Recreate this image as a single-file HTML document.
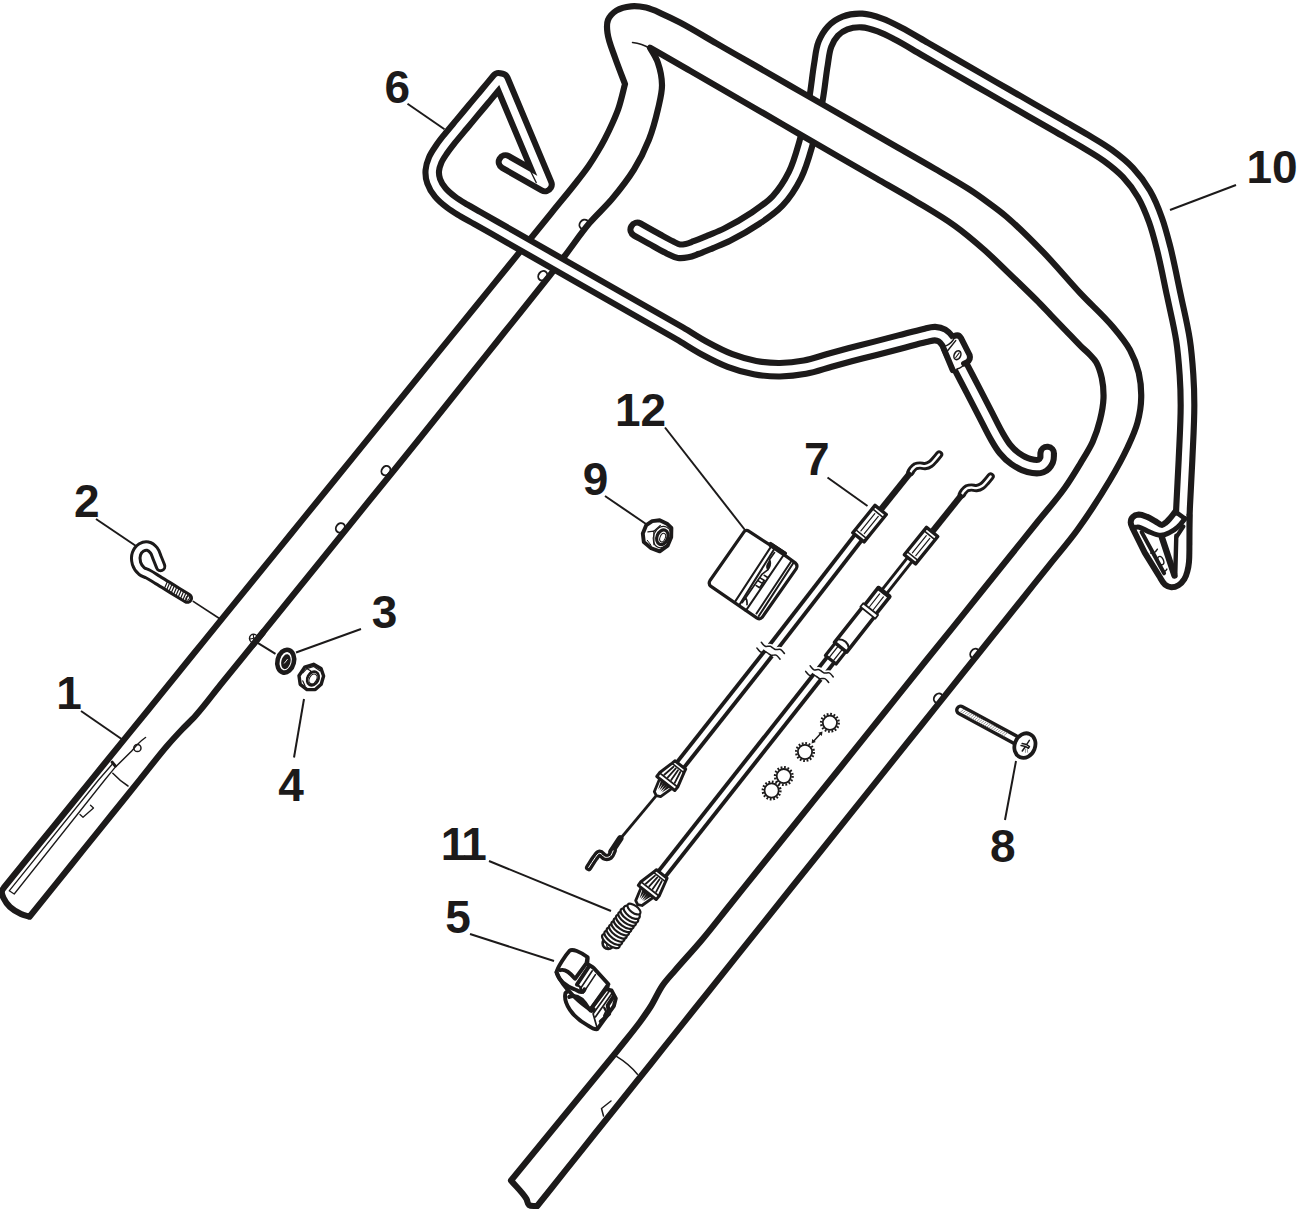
<!DOCTYPE html>
<html><head><meta charset="utf-8"><title>Handle assembly</title>
<style>
html,body{margin:0;padding:0;background:#fff}
body{width:1300px;height:1210px;overflow:hidden}
svg{display:block}
text{font-family:"Liberation Sans",Arial,Helvetica,sans-serif;font-weight:700;font-size:46px;fill:#1c1a1a}
</style></head><body>
<svg width="1300" height="1210" viewBox="0 0 1300 1210">
<rect width="1300" height="1210" fill="#fff"/>
<g fill="none" stroke-linecap="round" stroke-linejoin="round">
<g id="wire10">
<path d="M637.3,229.5 C643.9,233.2 650.4,236.9 657,240.5 C661.3,242.9 665.6,245.4 670,247.5 C672.9,248.9 675.8,250.7 679,251.2 C681.6,251.6 684.4,251.1 687,250.6 C690.1,250 693,248.7 696,247.6 C700.7,245.9 705.4,243.9 710,242 C715.7,239.6 721.5,237.5 727,234.7 C736.6,229.9 746.1,224.5 755,218.5 C762.9,213.2 771,207.9 777.5,201 C784.6,193.4 790.3,184.4 795,175 C800,164.9 802.9,153.8 806,143 C810.1,128.5 813.3,113.8 816,99 C818.1,87.4 819,75.6 821,64 C822.1,57.3 822.5,50.3 825,44 C826.9,39.3 829.5,34.7 833,31 C836.3,27.5 840.5,24.7 845,23 C850.3,20.9 856.3,20.2 862,20.5 C868.2,20.8 874.2,22.9 880,25 C886.2,27.2 892.1,30.4 898,33.5 C907.1,38.2 915.8,43.7 924.7,48.8 C933.6,54 942.5,59.1 951.4,64.2 C960.3,69.3 969.2,74.4 978.1,79.6 C987,84.7 996,89.8 1004.9,94.9 C1013.8,100 1022.7,105.2 1031.6,110.3 C1040.5,115.4 1049.4,120.5 1058.3,125.6 C1067.2,130.8 1076.2,135.7 1085,141 C1092.8,145.7 1100.7,150.1 1108,155.5 C1115.1,160.7 1122,166.1 1128,172.5 C1134.1,179 1139.5,186.3 1144,194 C1148.8,202.2 1152.3,211.1 1155.5,220 C1158.9,229.4 1161.3,239.1 1163.8,248.8 C1167.6,264 1170.5,279.6 1173.8,295 C1176.9,310 1180.7,324.9 1183,340 C1184.8,351.6 1185.7,363.3 1186.5,375 C1187.2,385 1187.5,395 1187.5,405 C1187.5,423.3 1186.3,441.7 1185.5,460 C1184.8,475 1183.9,490 1183.2,505 C1182.8,513.3 1182.5,521.7 1182.3,530 C1182.2,535 1182.2,540 1182.2,545" stroke="#1c1a1a" stroke-width="19.8" />
<path d="M637.3,229.5 C643.9,233.2 650.4,236.9 657,240.5 C661.3,242.9 665.6,245.4 670,247.5 C672.9,248.9 675.8,250.7 679,251.2 C681.6,251.6 684.4,251.1 687,250.6 C690.1,250 693,248.7 696,247.6 C700.7,245.9 705.4,243.9 710,242 C715.7,239.6 721.5,237.5 727,234.7 C736.6,229.9 746.1,224.5 755,218.5 C762.9,213.2 771,207.9 777.5,201 C784.6,193.4 790.3,184.4 795,175 C800,164.9 802.9,153.8 806,143 C810.1,128.5 813.3,113.8 816,99 C818.1,87.4 819,75.6 821,64 C822.1,57.3 822.5,50.3 825,44 C826.9,39.3 829.5,34.7 833,31 C836.3,27.5 840.5,24.7 845,23 C850.3,20.9 856.3,20.2 862,20.5 C868.2,20.8 874.2,22.9 880,25 C886.2,27.2 892.1,30.4 898,33.5 C907.1,38.2 915.8,43.7 924.7,48.8 C933.6,54 942.5,59.1 951.4,64.2 C960.3,69.3 969.2,74.4 978.1,79.6 C987,84.7 996,89.8 1004.9,94.9 C1013.8,100 1022.7,105.2 1031.6,110.3 C1040.5,115.4 1049.4,120.5 1058.3,125.6 C1067.2,130.8 1076.2,135.7 1085,141 C1092.8,145.7 1100.7,150.1 1108,155.5 C1115.1,160.7 1122,166.1 1128,172.5 C1134.1,179 1139.5,186.3 1144,194 C1148.8,202.2 1152.3,211.1 1155.5,220 C1158.9,229.4 1161.3,239.1 1163.8,248.8 C1167.6,264 1170.5,279.6 1173.8,295 C1176.9,310 1180.7,324.9 1183,340 C1184.8,351.6 1185.7,363.3 1186.5,375 C1187.2,385 1187.5,395 1187.5,405 C1187.5,423.3 1186.3,441.7 1185.5,460 C1184.8,475 1183.9,490 1183.2,505 C1182.8,513.3 1182.5,521.7 1182.3,530 C1182.2,535 1182.2,540 1182.2,545" stroke="#fff" stroke-width="7.5" />
</g>
<g id="tube-fill">
<path d="M29.5,916.7 C26.7,915.8 23.7,915.3 21,914 C17.1,912.2 13.2,910 10,907 C7.3,904.5 5.1,901.3 3.5,898 C2.5,896 1.5,893.7 1.8,891.5 C2,890 3.3,888.8 4,887.5 C12.3,877.3 20.6,867.1 28.9,856.8 C37.2,846.6 45.5,836.4 53.8,826.2 C62.1,815.9 70.4,805.7 78.7,795.5 C87,785.3 95.3,775 103.6,764.8 C111.9,754.6 120.2,744.4 128.5,734.1 C136.8,723.9 145.1,713.7 153.4,703.5 C161.7,693.2 170,683 178.3,672.8 C186.5,662.6 194.8,652.3 203.1,642.1 C211.4,631.9 219.7,621.7 228,611.4 C236.3,601.2 244.6,591 252.9,580.8 C261.2,570.5 269.5,560.3 277.8,550.1 C286.1,539.9 294.4,529.6 302.7,519.4 C311,509.2 319.3,499 327.6,488.7 C335.9,478.5 344.2,468.3 352.5,458.1 C360.8,447.8 369.1,437.6 377.4,427.4 C385.7,417.2 394,406.9 402.3,396.7 C410.6,386.5 418.9,376.3 427.2,366 C435.5,355.8 443.8,345.6 452.1,335.4 C460.4,325.1 468.7,314.9 477,304.7 C485.3,294.5 493.6,284.2 501.9,274 C510.2,263.8 518.5,253.6 526.8,243.3 C535.1,233.1 543.4,222.9 551.6,212.7 C559.9,202.4 568.4,192.4 576.5,182 C580.7,176.7 584.8,171.5 588.6,166 C591.7,161.5 594.7,156.7 597.5,152 C600.1,147.7 602.5,143.4 604.8,139 C607.5,133.8 610.1,128.4 612.5,123 C614.7,118.1 616.9,113.1 618.6,108 C621.2,100.1 622.9,92 625,84 C621.7,75.2 618.1,66.4 615,57.5 C612.2,49.4 608.6,41.5 607.5,33 C606.9,28.7 606.4,24 608,20 C609.6,16.1 612.9,12.8 616.5,10.5 C620.8,7.8 626,6.8 631,6.3 C636,5.8 641.1,6.5 646,7.6 C651.6,8.9 656.8,11.5 662,13.8 C668.1,16.5 674.1,19.4 680,22.5 C692.4,29 704.3,36.4 716.4,43.4 C728.6,50.4 740.7,57.3 752.9,64.3 C765,71.3 777.1,78.3 789.3,85.2 C801.4,92.2 813.6,99.2 825.7,106.1 C837.9,113.1 850,120.1 862.1,127 C874.3,134 886.4,141 898.6,148 C910.7,154.9 922.9,161.8 935,168.9 C946.5,175.6 958.1,182.2 969.3,189.4 C975.7,193.5 981.9,198 988,202.5 C994.2,207 1000.4,211.5 1006.2,216.5 C1019.2,227.7 1031.3,239.9 1043.2,252.2 C1055.9,265.3 1067.5,279.5 1080,292.9 C1090.8,304.5 1102.8,314.9 1113,327 C1119.2,334.3 1125.4,341.6 1130,350 C1133.9,357.2 1136.9,365 1138.8,373 C1140.6,381 1141.4,389.3 1141.2,397.5 C1141.1,405.9 1139.7,414.4 1137.5,422.5 C1135.2,431.2 1131.3,439.4 1127.5,447.5 C1122.3,458.6 1116.3,469.4 1110,480 C1099.8,497.1 1089,513.9 1077.3,530 C1068.4,542.3 1058.4,553.7 1048.9,565.6 C1039.4,577.4 1029.9,589.3 1020.5,601.2 C1011,613 1001.5,624.9 992,636.7 C982.6,648.6 973.1,660.5 963.6,672.3 C954.1,684.2 944.6,696 935.2,707.9 C925.7,719.8 916.2,731.6 906.7,743.5 C897.3,755.3 887.8,767.2 878.3,779.1 C868.8,790.9 859.4,802.8 849.9,814.6 C840.4,826.5 830.9,838.4 821.5,850.2 C812,862.1 802.5,873.9 793,885.8 C783.6,897.6 774.1,909.5 764.6,921.4 C755.1,933.2 745.7,945.1 736.2,956.9 C726.7,968.8 717.2,980.7 707.8,992.5 C698.3,1004.4 688.8,1016.2 679.3,1028.1 C669.8,1040 660.4,1051.8 650.9,1063.7 C641.4,1075.5 631.9,1087.4 622.5,1099.3 C613,1111.1 603.5,1123 594,1134.8 C584.6,1146.7 575.1,1158.6 565.6,1170.4 C556.1,1182.3 546.7,1194.1 537.2,1206 C534.5,1205.7 531.2,1206.7 529,1205 C527.3,1203.7 527.6,1200.9 526.5,1199 C522.3,1192.1 516.2,1186.7 511,1180.5 C546.5,1137.2 582,1093.8 617.5,1050.5 C625,1041 632.8,1031.7 640,1022 C643.8,1016.8 647.6,1011.5 651,1006 C655.1,999.3 658.1,992 662.5,985.5 C666.2,980.1 670.8,975.4 675,970.5 C683.8,960.2 693.1,950.4 701.8,940 C711.4,928.6 720.4,916.8 729.7,905.2 C739,893.6 748.3,882.1 757.6,870.5 C766.9,858.9 776.2,847.3 785.5,835.7 C794.9,824.1 804.2,812.5 813.5,800.9 C822.8,789.3 832.1,777.7 841.4,766.2 C850.7,754.6 860,743 869.3,731.4 C878.6,719.8 887.9,708.2 897.2,696.6 C906.5,685 915.8,673.4 925.1,661.8 C934.5,650.3 943.8,638.7 953.1,627.1 C962.4,615.5 971.7,603.9 981,592.3 C990.3,580.7 999.6,569.1 1008.9,557.5 C1018.2,545.9 1027.5,534.4 1036.8,522.8 C1046.1,511.2 1056.1,500.1 1064.7,488 C1070.4,480.2 1075.3,471.9 1080.3,463.6 C1084.6,456.4 1089.3,449.4 1092.7,441.8 C1095.8,434.8 1098.2,427.4 1100,420 C1101.8,412.9 1103.2,405.6 1103.5,398.2 C1103.7,391.5 1103.2,384.7 1101.8,378.2 C1100.6,372.7 1099,367.1 1096.2,362.2 C1094.5,359.2 1091.9,356.8 1089.5,354.3 C1086.7,351.3 1083.4,348.8 1080.5,345.9 C1075.5,340.9 1070.7,335.7 1065.8,330.6 C1060.9,325.5 1056,320.4 1051.1,315.3 C1046.2,310.2 1041.4,305 1036.4,300 C1026.4,290 1016.2,280.3 1006,270.5 C999,263.8 992.2,256.9 985,250.5 C975.3,242 965.5,233.5 955,226 C942.2,216.8 928.5,209 915,200.8 C902.5,193.3 889.8,186.2 877.1,178.9 C864.5,171.7 851.9,164.4 839.3,157.1 C826.7,149.8 814,142.5 801.4,135.2 C788.8,127.9 776.2,120.6 763.6,113.3 C751,106 738.3,98.7 725.7,91.4 C713.1,84.1 700.5,76.8 687.9,69.5 C675.2,62.2 662.6,55 650,47.7 C652.6,52.6 656,57.2 657.8,62.5 C660.3,69.7 661.9,77.4 662,85 C662.1,93.1 659.8,101.1 658,109 C655.6,119.3 652.9,129.6 649,139.5 C644.9,149.9 639.9,160 634,169.5 C627.5,180 619.7,189.8 611.8,199.3 C604.8,207.6 596.5,214.8 589.5,223.1 C580.7,233.6 573,245.1 564.7,256 C558.6,264 552.5,272.1 546.2,280 C537.8,290.7 529.2,301.3 520.7,312 C512.1,322.7 503.6,333.3 495.1,344 C486.6,354.7 478.1,365.3 469.5,376 C461,386.7 452.5,397.3 444,408 C435.4,418.7 427,429.4 418.4,440 C410.2,450.2 401.9,460.4 393.6,470.7 C385.3,480.9 377.1,491.1 368.8,501.3 C360.6,511.6 352.3,521.8 344,532 C335.8,542.2 327.5,552.4 319.2,562.7 C311,572.9 302.7,583.1 294.5,593.3 C286.2,603.6 277.9,613.8 269.7,624 C261.4,634.2 253.1,644.4 244.9,654.7 C236.6,664.9 228.4,675.1 220.1,685.3 C211.8,695.6 204.1,706.2 195.3,716 C191.1,720.7 186.3,724.9 182,729.5 C176.9,734.9 171.8,740.4 167,746 C157.5,757.1 148.7,768.8 139.5,780.1 C130.3,791.5 121.2,802.9 112,814.3 C102.8,825.7 93.7,837 84.5,848.4 C75.3,859.8 66.2,871.2 57,882.6 C47.8,893.9 38.7,905.3 29.5,916.7 Z" fill="#fff" stroke="none"/>
</g>
<g id="tube-details">
<ellipse cx="583.9" cy="224.3" rx="4.1" ry="5.0" transform="rotate(38 583.9 224.3)" stroke="#1c1a1a" stroke-width="1.9"/>
<ellipse cx="542.7" cy="275.7" rx="4.1" ry="5.0" transform="rotate(38 542.7 275.7)" stroke="#1c1a1a" stroke-width="1.9"/>
<ellipse cx="385.9" cy="470.6" rx="4.1" ry="5.0" transform="rotate(38 385.9 470.6)" stroke="#1c1a1a" stroke-width="1.9"/>
<ellipse cx="340.3" cy="527.8" rx="4.1" ry="5.0" transform="rotate(38 340.3 527.8)" stroke="#1c1a1a" stroke-width="1.9"/>
<ellipse cx="974.7" cy="653.5" rx="4.1" ry="5.0" transform="rotate(38 974.7 653.5)" stroke="#1c1a1a" stroke-width="1.9"/>
<ellipse cx="938.3" cy="698.2" rx="4.1" ry="5.0" transform="rotate(38 938.3 698.2)" stroke="#1c1a1a" stroke-width="1.9"/>
<path d="M632.5,42.5 Q642,43.5 650,48.5" stroke="#1c1a1a" stroke-width="1.5" />
<path d="M145.5,737.5 Q139,742 131.7,751 L116,766.5" stroke="#1c1a1a" stroke-width="1.5" />
<path d="M112.2,762.2 L115.3,766" stroke="#1c1a1a" stroke-width="3" />
<path d="M112,764.5 L98.5,780 L9.2,890.8 L14.2,894 L104.7,780 L115.5,766.8" stroke="#1c1a1a" stroke-width="1.3" />
<path d="M112.8,773.3 Q120,781 128,786" stroke="#1c1a1a" stroke-width="1.5" />
<circle cx="137.4" cy="748" r="3.6" stroke="#1c1a1a" stroke-width="1.5"/>
<path d="M90.5,805.2 L93.5,808 L83,817.3 L80,814.5" stroke="#1c1a1a" stroke-width="1.3" />
<path d="M616.5,1056.4 Q629,1064 637.4,1074.2" stroke="#1c1a1a" stroke-width="1.5" />
<path d="M603.5,1116 L601.5,1108.5 L611,1101" stroke="#1c1a1a" stroke-width="1.5" />
</g>
<g id="tube-stroke"><path d="M29.5,916.7 C26.7,915.8 23.7,915.3 21,914 C17.1,912.2 13.2,910 10,907 C7.3,904.5 5.1,901.3 3.5,898 C2.5,896 1.5,893.7 1.8,891.5 C2,890 3.3,888.8 4,887.5 C12.3,877.3 20.6,867.1 28.9,856.8 C37.2,846.6 45.5,836.4 53.8,826.2 C62.1,815.9 70.4,805.7 78.7,795.5 C87,785.3 95.3,775 103.6,764.8 C111.9,754.6 120.2,744.4 128.5,734.1 C136.8,723.9 145.1,713.7 153.4,703.5 C161.7,693.2 170,683 178.3,672.8 C186.5,662.6 194.8,652.3 203.1,642.1 C211.4,631.9 219.7,621.7 228,611.4 C236.3,601.2 244.6,591 252.9,580.8 C261.2,570.5 269.5,560.3 277.8,550.1 C286.1,539.9 294.4,529.6 302.7,519.4 C311,509.2 319.3,499 327.6,488.7 C335.9,478.5 344.2,468.3 352.5,458.1 C360.8,447.8 369.1,437.6 377.4,427.4 C385.7,417.2 394,406.9 402.3,396.7 C410.6,386.5 418.9,376.3 427.2,366 C435.5,355.8 443.8,345.6 452.1,335.4 C460.4,325.1 468.7,314.9 477,304.7 C485.3,294.5 493.6,284.2 501.9,274 C510.2,263.8 518.5,253.6 526.8,243.3 C535.1,233.1 543.4,222.9 551.6,212.7 C559.9,202.4 568.4,192.4 576.5,182 C580.7,176.7 584.8,171.5 588.6,166 C591.7,161.5 594.7,156.7 597.5,152 C600.1,147.7 602.5,143.4 604.8,139 C607.5,133.8 610.1,128.4 612.5,123 C614.7,118.1 616.9,113.1 618.6,108 C621.2,100.1 622.9,92 625,84 C621.7,75.2 618.1,66.4 615,57.5 C612.2,49.4 608.6,41.5 607.5,33 C606.9,28.7 606.4,24 608,20 C609.6,16.1 612.9,12.8 616.5,10.5 C620.8,7.8 626,6.8 631,6.3 C636,5.8 641.1,6.5 646,7.6 C651.6,8.9 656.8,11.5 662,13.8 C668.1,16.5 674.1,19.4 680,22.5 C692.4,29 704.3,36.4 716.4,43.4 C728.6,50.4 740.7,57.3 752.9,64.3 C765,71.3 777.1,78.3 789.3,85.2 C801.4,92.2 813.6,99.2 825.7,106.1 C837.9,113.1 850,120.1 862.1,127 C874.3,134 886.4,141 898.6,148 C910.7,154.9 922.9,161.8 935,168.9 C946.5,175.6 958.1,182.2 969.3,189.4 C975.7,193.5 981.9,198 988,202.5 C994.2,207 1000.4,211.5 1006.2,216.5 C1019.2,227.7 1031.3,239.9 1043.2,252.2 C1055.9,265.3 1067.5,279.5 1080,292.9 C1090.8,304.5 1102.8,314.9 1113,327 C1119.2,334.3 1125.4,341.6 1130,350 C1133.9,357.2 1136.9,365 1138.8,373 C1140.6,381 1141.4,389.3 1141.2,397.5 C1141.1,405.9 1139.7,414.4 1137.5,422.5 C1135.2,431.2 1131.3,439.4 1127.5,447.5 C1122.3,458.6 1116.3,469.4 1110,480 C1099.8,497.1 1089,513.9 1077.3,530 C1068.4,542.3 1058.4,553.7 1048.9,565.6 C1039.4,577.4 1029.9,589.3 1020.5,601.2 C1011,613 1001.5,624.9 992,636.7 C982.6,648.6 973.1,660.5 963.6,672.3 C954.1,684.2 944.6,696 935.2,707.9 C925.7,719.8 916.2,731.6 906.7,743.5 C897.3,755.3 887.8,767.2 878.3,779.1 C868.8,790.9 859.4,802.8 849.9,814.6 C840.4,826.5 830.9,838.4 821.5,850.2 C812,862.1 802.5,873.9 793,885.8 C783.6,897.6 774.1,909.5 764.6,921.4 C755.1,933.2 745.7,945.1 736.2,956.9 C726.7,968.8 717.2,980.7 707.8,992.5 C698.3,1004.4 688.8,1016.2 679.3,1028.1 C669.8,1040 660.4,1051.8 650.9,1063.7 C641.4,1075.5 631.9,1087.4 622.5,1099.3 C613,1111.1 603.5,1123 594,1134.8 C584.6,1146.7 575.1,1158.6 565.6,1170.4 C556.1,1182.3 546.7,1194.1 537.2,1206 C534.5,1205.7 531.2,1206.7 529,1205 C527.3,1203.7 527.6,1200.9 526.5,1199 C522.3,1192.1 516.2,1186.7 511,1180.5 C546.5,1137.2 582,1093.8 617.5,1050.5 C625,1041 632.8,1031.7 640,1022 C643.8,1016.8 647.6,1011.5 651,1006 C655.1,999.3 658.1,992 662.5,985.5 C666.2,980.1 670.8,975.4 675,970.5 C683.8,960.2 693.1,950.4 701.8,940 C711.4,928.6 720.4,916.8 729.7,905.2 C739,893.6 748.3,882.1 757.6,870.5 C766.9,858.9 776.2,847.3 785.5,835.7 C794.9,824.1 804.2,812.5 813.5,800.9 C822.8,789.3 832.1,777.7 841.4,766.2 C850.7,754.6 860,743 869.3,731.4 C878.6,719.8 887.9,708.2 897.2,696.6 C906.5,685 915.8,673.4 925.1,661.8 C934.5,650.3 943.8,638.7 953.1,627.1 C962.4,615.5 971.7,603.9 981,592.3 C990.3,580.7 999.6,569.1 1008.9,557.5 C1018.2,545.9 1027.5,534.4 1036.8,522.8 C1046.1,511.2 1056.1,500.1 1064.7,488 C1070.4,480.2 1075.3,471.9 1080.3,463.6 C1084.6,456.4 1089.3,449.4 1092.7,441.8 C1095.8,434.8 1098.2,427.4 1100,420 C1101.8,412.9 1103.2,405.6 1103.5,398.2 C1103.7,391.5 1103.2,384.7 1101.8,378.2 C1100.6,372.7 1099,367.1 1096.2,362.2 C1094.5,359.2 1091.9,356.8 1089.5,354.3 C1086.7,351.3 1083.4,348.8 1080.5,345.9 C1075.5,340.9 1070.7,335.7 1065.8,330.6 C1060.9,325.5 1056,320.4 1051.1,315.3 C1046.2,310.2 1041.4,305 1036.4,300 C1026.4,290 1016.2,280.3 1006,270.5 C999,263.8 992.2,256.9 985,250.5 C975.3,242 965.5,233.5 955,226 C942.2,216.8 928.5,209 915,200.8 C902.5,193.3 889.8,186.2 877.1,178.9 C864.5,171.7 851.9,164.4 839.3,157.1 C826.7,149.8 814,142.5 801.4,135.2 C788.8,127.9 776.2,120.6 763.6,113.3 C751,106 738.3,98.7 725.7,91.4 C713.1,84.1 700.5,76.8 687.9,69.5 C675.2,62.2 662.6,55 650,47.7 C652.6,52.6 656,57.2 657.8,62.5 C660.3,69.7 661.9,77.4 662,85 C662.1,93.1 659.8,101.1 658,109 C655.6,119.3 652.9,129.6 649,139.5 C644.9,149.9 639.9,160 634,169.5 C627.5,180 619.7,189.8 611.8,199.3 C604.8,207.6 596.5,214.8 589.5,223.1 C580.7,233.6 573,245.1 564.7,256 C558.6,264 552.5,272.1 546.2,280 C537.8,290.7 529.2,301.3 520.7,312 C512.1,322.7 503.6,333.3 495.1,344 C486.6,354.7 478.1,365.3 469.5,376 C461,386.7 452.5,397.3 444,408 C435.4,418.7 427,429.4 418.4,440 C410.2,450.2 401.9,460.4 393.6,470.7 C385.3,480.9 377.1,491.1 368.8,501.3 C360.6,511.6 352.3,521.8 344,532 C335.8,542.2 327.5,552.4 319.2,562.7 C311,572.9 302.7,583.1 294.5,593.3 C286.2,603.6 277.9,613.8 269.7,624 C261.4,634.2 253.1,644.4 244.9,654.7 C236.6,664.9 228.4,675.1 220.1,685.3 C211.8,695.6 204.1,706.2 195.3,716 C191.1,720.7 186.3,724.9 182,729.5 C176.9,734.9 171.8,740.4 167,746 C157.5,757.1 148.7,768.8 139.5,780.1 C130.3,791.5 121.2,802.9 112,814.3 C102.8,825.7 93.7,837 84.5,848.4 C75.3,859.8 66.2,871.2 57,882.6 C47.8,893.9 38.7,905.3 29.5,916.7 Z" stroke="#1c1a1a" stroke-width="6.2"/></g>
<g id="wire6">
<path d="M505.5,162 L545,184.5 L501.3,80.4 L498.7,79.8 C494.6,84.7 490.5,89.7 486.4,94.6 C482.3,99.5 478.2,104.5 474,109.4 C469.9,114.3 465.8,119.3 461.7,124.2 C457.6,129.1 453.4,134 449.4,139 C446.7,142.4 443.9,145.9 441.5,149.5 C439.2,152.9 436.8,156.2 435.2,160 C433.8,163.3 432.6,166.9 432.3,170.5 C432,174.1 432.5,177.8 433.7,181.2 C435.1,185.3 437.5,189 440.2,192.3 C443.3,196.1 447.3,199.3 451.2,202.3 C455.2,205.4 459.7,207.9 464,210.5 C468.4,213.1 472.9,215.5 477.3,218 C488.6,224.4 499.8,230.8 511.1,237.2 C522.3,243.7 533.6,250.1 544.9,256.5 C556.1,262.9 567.4,269.3 578.6,275.8 C589.9,282.2 601.2,288.6 612.4,295 C623.7,301.4 635,307.8 646.2,314.2 C657.5,320.7 668.8,327 680,333.5 C688.4,338.4 696.4,343.9 705,348.5 C713.1,352.9 721.4,357.2 730,360.5 C738.1,363.6 746.5,366 755,367.6 C763.2,369.1 771.6,369.8 780,369.7 C788.4,369.6 796.8,368.7 805,367.2 C813.5,365.6 821.7,362.6 830,360.3 C836.7,358.5 843.3,356.6 850,354.8 C858.3,352.6 866.7,350.5 875,348.4 C883.3,346.2 891.7,344.1 900,341.9 C908.3,339.8 916.6,337.4 925,335.5 C928.3,334.8 931.6,333.5 935,333.6 C937.4,333.7 939.9,334.3 942,335.5 C944.2,336.8 946,338.9 947.5,341 C949.5,343.7 950.5,347 952,350 C954.7,355.4 957.5,360.7 960.3,366 C964.4,373.9 968.6,381.9 972.7,389.8 C976.8,397.8 981,405.7 985.1,413.7 C989.2,421.6 993,429.8 997.5,437.5 C999.8,441.5 1002.1,445.5 1005,449 C1007.9,452.5 1011.2,455.9 1015,458.5 C1019.3,461.5 1023.9,464.2 1029,465.5 C1032.9,466.5 1037.3,467.5 1041,466 C1043.5,465 1045.5,462.5 1046.6,460 C1047.5,458 1047,455.7 1047.2,453.5" stroke="#1c1a1a" stroke-width="19.6" />
<path d="M505.5,162 L545,184.5 L501.3,80.4 L498.7,79.8 C494.6,84.7 490.5,89.7 486.4,94.6 C482.3,99.5 478.2,104.5 474,109.4 C469.9,114.3 465.8,119.3 461.7,124.2 C457.6,129.1 453.4,134 449.4,139 C446.7,142.4 443.9,145.9 441.5,149.5 C439.2,152.9 436.8,156.2 435.2,160 C433.8,163.3 432.6,166.9 432.3,170.5 C432,174.1 432.5,177.8 433.7,181.2 C435.1,185.3 437.5,189 440.2,192.3 C443.3,196.1 447.3,199.3 451.2,202.3 C455.2,205.4 459.7,207.9 464,210.5 C468.4,213.1 472.9,215.5 477.3,218 C488.6,224.4 499.8,230.8 511.1,237.2 C522.3,243.7 533.6,250.1 544.9,256.5 C556.1,262.9 567.4,269.3 578.6,275.8 C589.9,282.2 601.2,288.6 612.4,295 C623.7,301.4 635,307.8 646.2,314.2 C657.5,320.7 668.8,327 680,333.5 C688.4,338.4 696.4,343.9 705,348.5 C713.1,352.9 721.4,357.2 730,360.5 C738.1,363.6 746.5,366 755,367.6 C763.2,369.1 771.6,369.8 780,369.7 C788.4,369.6 796.8,368.7 805,367.2 C813.5,365.6 821.7,362.6 830,360.3 C836.7,358.5 843.3,356.6 850,354.8 C858.3,352.6 866.7,350.5 875,348.4 C883.3,346.2 891.7,344.1 900,341.9 C908.3,339.8 916.6,337.4 925,335.5 C928.3,334.8 931.6,333.5 935,333.6 C937.4,333.7 939.9,334.3 942,335.5 C944.2,336.8 946,338.9 947.5,341 C949.5,343.7 950.5,347 952,350 C954.7,355.4 957.5,360.7 960.3,366 C964.4,373.9 968.6,381.9 972.7,389.8 C976.8,397.8 981,405.7 985.1,413.7 C989.2,421.6 993,429.8 997.5,437.5 C999.8,441.5 1002.1,445.5 1005,449 C1007.9,452.5 1011.2,455.9 1015,458.5 C1019.3,461.5 1023.9,464.2 1029,465.5 C1032.9,466.5 1037.3,467.5 1041,466 C1043.5,465 1045.5,462.5 1046.6,460 C1047.5,458 1047,455.7 1047.2,453.5" stroke="#fff" stroke-width="7.4" />
</g>
<g id="hookbolt">
<path d="M160.6,566.4 C159.5,563.6 158.4,560.7 157.2,557.9 C156.1,555.4 155.6,552.5 153.8,550.3 C152.3,548.4 150.3,546.6 147.9,546.1 C145.8,545.6 143.4,546.2 141.6,547.3 C139.3,548.8 137.4,551.1 136.5,553.7 C135.4,556.7 135.6,560.3 136.5,563.4 C137.4,566.3 139.3,569 141.6,571 C143.3,572.6 145.9,572.9 147.9,574 C151.3,575.8 154.5,578 157.8,580 C161,582 164.3,584 167.6,586 C170.9,588.1 174.1,590.1 177.4,592.1 C180.7,594.1 184,596.1 187.3,598.1" stroke="#1c1a1a" stroke-width="11.5" />
<path d="M160.6,566.4 C159.5,563.6 158.4,560.7 157.2,557.9 C156.1,555.4 155.6,552.5 153.8,550.3 C152.3,548.4 150.3,546.6 147.9,546.1 C145.8,545.6 143.4,546.2 141.6,547.3 C139.3,548.8 137.4,551.1 136.5,553.7 C135.4,556.7 135.6,560.3 136.5,563.4 C137.4,566.3 139.3,569 141.6,571 C143.3,572.6 145.9,572.9 147.9,574 C151.3,575.8 154.5,578 157.8,580 C161,582 164.3,584 167.6,586 C170.9,588.1 174.1,590.1 177.4,592.1 C180.7,594.1 184,596.1 187.3,598.1" stroke="#fff" stroke-width="5.5" />
<path d="M167,582.4 L164.4,588.4" stroke="#1c1a1a" stroke-width="1.2" />
<path d="M169.3,583.8 L166.7,589.8" stroke="#1c1a1a" stroke-width="1.2" />
<path d="M171.7,585.1 L169.1,591.1" stroke="#1c1a1a" stroke-width="1.2" />
<path d="M174,586.5 L171.4,592.5" stroke="#1c1a1a" stroke-width="1.2" />
<path d="M176.4,587.9 L173.8,593.9" stroke="#1c1a1a" stroke-width="1.2" />
<path d="M178.7,589.2 L176.1,595.2" stroke="#1c1a1a" stroke-width="1.2" />
<path d="M181.1,590.6 L178.5,596.6" stroke="#1c1a1a" stroke-width="1.2" />
<path d="M183.4,592 L180.8,598" stroke="#1c1a1a" stroke-width="1.2" />
<path d="M185.8,593.3 L183.2,599.3" stroke="#1c1a1a" stroke-width="1.2" />
<path d="M188.1,594.7 L185.5,600.7" stroke="#1c1a1a" stroke-width="1.2" />
<ellipse cx="187.7" cy="598.1" rx="1.6" ry="2.3" transform="rotate(30 187.7 598.1)" stroke="#1c1a1a" stroke-width="1"/>
<path d="M192.8,601.1 L219.8,618.8" stroke="#1c1a1a" stroke-width="1.7" stroke-linecap="butt"/>
</g>
<g id="washer-nut">
<path d="M256.9,642.4 L275.5,653.8" stroke="#1c1a1a" stroke-width="2" stroke-linecap="butt"/>
<circle cx="253.6" cy="638.4" r="4.1" fill="#fff" stroke="#1c1a1a" stroke-width="1.5"/>
<path d="M250,639 L256.1,637.8 M253.4,634.6 L253.8,642.2" stroke="#1c1a1a" stroke-width="1.1" />
<path d="M262.9,632.4 L253.2,644.4" stroke="#1c1a1a" stroke-width="6.4" />
<g transform="translate(285.7,661.2) rotate(14)">
<ellipse rx="8.2" ry="11.6" fill="#fff" stroke="#1c1a1a" stroke-width="4.6"/>
<ellipse cx="0.3" cy="0.4" rx="4.6" ry="7.6" fill="#1c1a1a" stroke="none"/>
<path d="M-0.8,2.2 L1.2,-2.2" stroke="#fff" stroke-width="0.8"/>
</g>
<path d="M304.7,667.1 L313.6,664.3 L321,668.4 L323.6,676 L321.2,684.3 L315.3,689.6 L307,689.6 L300.2,684.3 L299,675.8 Z" fill="#fff" stroke="#1c1a1a" stroke-width="3.4"/>
<ellipse cx="312.9" cy="678.5" rx="5.4" ry="7.2" transform="rotate(28 312.9 678.5)" stroke="#1c1a1a" stroke-width="2.6"/>
<ellipse cx="313.2" cy="678.8" rx="3.6" ry="5.2" transform="rotate(28 312.9 678.5)" stroke="#1c1a1a" stroke-width="1.1"/>
<path d="M302.8,672.9 L306.8,668.6 L310.9,671 L307,678.4" stroke="#1c1a1a" stroke-width="1.2" />
<path d="M306.8,668.6 L313.8,666.4 L319.9,670.8" stroke="#1c1a1a" stroke-width="1.2" />
<path d="M302.8,680.9 L305.1,686" stroke="#1c1a1a" stroke-width="1.2" />
</g>
<g id="nut9">
<path d="M646.3,525.1 L652.2,521.1 L659.7,520.3 L667,523.7 L671.4,528 L671.2,537.2 L667.6,545.7 L659.7,551.4 L651.2,548.2 L643.8,542.1 L642.8,533.5 Z" fill="#fff" stroke="#1c1a1a" stroke-width="3.9"/>
<ellipse cx="662.4" cy="537.2" rx="5.4" ry="7.6" transform="rotate(22 662.4 537.2)" stroke="#1c1a1a" stroke-width="3.2"/>
<ellipse cx="662.1" cy="537.2" rx="8.6" ry="11" transform="rotate(22 662.4 537.2)" stroke="#1c1a1a" stroke-width="1.1"/>
<ellipse cx="662.8" cy="537.5" rx="2.6" ry="4.4" transform="rotate(22 662.4 537.2)" stroke="#1c1a1a" stroke-width="1"/>
<path d="M647.9,531.9 L653.8,531.2 L654,544.7" stroke="#1c1a1a" stroke-width="1.2" />
<path d="M653.8,531.2 L660.3,525.5" stroke="#1c1a1a" stroke-width="1.2" />
<path d="M647.3,540.3 L651,545.2" stroke="#1c1a1a" stroke-width="1" />
</g>
<g id="box12">
<path d="M744,531.8 Q746.1,529.3 749.1,531.4 L769.5,544.7 L770.4,543.5 L785.4,553.4 L784.6,555.1 L795.2,562.7 Q798.1,565.3 796.3,568.6 L762.2,617.3 Q760.1,619.8 757.1,618.1 L711,586.4 Q708,583.9 710,580.5 Z" fill="#fff" stroke="#1c1a1a" stroke-width="3.2"/>
<path d="M770.1,544.4 L785,554.3" stroke="#1c1a1a" stroke-width="5" stroke-linecap="butt"/>
<path d="M770.2,547.9 L735.1,601.6" stroke="#1c1a1a" stroke-width="2" />
<path d="M773.8,549.8 L739.6,604.6" stroke="#1c1a1a" stroke-width="2" />
<path d="M783.3,555.5 L745.7,610.9" stroke="#1c1a1a" stroke-width="2" />
<path d="M791.4,561 L756.5,613.5" stroke="#1c1a1a" stroke-width="2" />
<path d="M793.5,562.7 L758.8,616" stroke="#1c1a1a" stroke-width="2" />
<path d="M774.5,552.6 L769.4,559.8 Q771.9,564 767.7,569.9 Q764.3,572.5 762.2,574.1 L755,584.3 M764.3,575.4 L767.7,577.5 M760.9,578.4 L764.3,580.5 L762.6,583 M758.4,580.9 L762.6,583.6 L759.6,587.7 L756.3,585.6 M755,584.3 L745.7,597.8 Q747.4,600.4 747,604.6 M752.5,587.7 L742.3,602.5" stroke="#1c1a1a" stroke-width="1.7" />
<path d="M769.2,559.8 Q772.8,564 767.7,570.8 Q765.1,567.4 766.8,564 Z" fill="#1c1a1a" stroke="none"/>
</g>
<g id="cables">
<path d="M939.1,454.5 C937.7,456.3 936.3,458 934.8,459.7 C933.5,461.2 932.2,462.9 930.5,464 C928.9,465.1 926.9,465.9 925,466.1 C923.3,466.3 921.7,465.5 920,465.5 C918.6,465.5 917.1,465.6 915.7,466.2 C914.2,467 913.1,468.3 912,469.6 C911.4,470.4 911,471.4 910.4,472.3" stroke="#1c1a1a" stroke-width="8.2" />
<path d="M939.1,454.5 C937.7,456.3 936.3,458 934.8,459.7 C933.5,461.2 932.2,462.9 930.5,464 C928.9,465.1 926.9,465.9 925,466.1 C923.3,466.3 921.7,465.5 920,465.5 C918.6,465.5 917.1,465.6 915.7,466.2 C914.2,467 913.1,468.3 912,469.6 C911.4,470.4 911,471.4 910.4,472.3" stroke="#fff" stroke-width="2.4" />
<path d="M910.7,472.3 L881.3,509" stroke="#1c1a1a" stroke-width="6.2" stroke-linecap="butt"/>
<path d="M860.3,534.9 L773,647.7" stroke="#1c1a1a" stroke-width="12.8" stroke-linecap="butt"/>
<path d="M860.3,534.9 L773,647.7" stroke="#fff" stroke-width="5" stroke-linecap="butt"/>
<path d="M768.6,653.3 L679.1,766.6" stroke="#1c1a1a" stroke-width="12.8" stroke-linecap="butt"/>
<path d="M768.6,653.3 L679.1,766.6" stroke="#fff" stroke-width="5" stroke-linecap="butt"/>
<path d="M875,505.4 L852.8,532.7 L864.1,541.9 L886.3,514.5 Z" fill="#fff" stroke="#1c1a1a" stroke-width="3.4"/>
<path d="M872.4,508.6 L883.6,517.8" stroke="#1c1a1a" stroke-width="1.6" />
<path d="M855.5,529.5 L866.7,538.6" stroke="#1c1a1a" stroke-width="1.6" />
<path d="M878.3,516.4 L864.3,533.6" stroke="#1c1a1a" stroke-width="1.2" />
<path d="M874.8,513.6 L860.9,530.9" stroke="#1c1a1a" stroke-width="1.2" />
<path d="M784.4,653.4 C783.1,652.1 782.2,650.2 780.5,649.5 C778.9,648.8 777,650 775.4,649.5 C774.4,649.2 773.7,648.4 772.8,647.9 C772,647.4 771.3,646.6 770.3,646.3 C768.6,645.8 766.7,647 765.2,646.3 C763.5,645.6 762.6,643.7 761.3,642.3" stroke="#fff" stroke-width="5"/>
<path d="M784.4,653.4 C783.1,652.1 782.2,650.2 780.5,649.5 C778.9,648.8 777,650 775.4,649.5 C774.4,649.2 773.7,648.4 772.8,647.9 C772,647.4 771.3,646.6 770.3,646.3 C768.6,645.8 766.7,647 765.2,646.3 C763.5,645.6 762.6,643.7 761.3,642.3" stroke="#1c1a1a" stroke-width="1.5" />
<path d="M780,659.1 C778.7,657.8 777.8,655.8 776.1,655.1 C774.5,654.5 772.6,655.7 770.9,655.2 C770,654.9 769.2,654.1 768.4,653.6 C767.5,653 766.8,652.2 765.8,652 C764.2,651.5 762.3,652.7 760.7,652 C759,651.3 758.2,649.3 756.9,648" stroke="#1c1a1a" stroke-width="1.5" />
<path d="M674.1,786.8 L660.7,776.3 L654.3,791.7 L656.3,795.7 L660.6,796.6 Z" fill="#fff" stroke="#1c1a1a" stroke-width="2.8"/>
<path d="M671.9,786.3 L668.7,783.9 L661.7,792.4 Z" fill="#1c1a1a" stroke="none"/>
<path d="M669.5,784.5 L666.3,782 L660.6,791.5 Z" fill="#1c1a1a" stroke="none"/>
<path d="M667.1,782.6 L664,780.2 L659.4,790.5 Z" fill="#1c1a1a" stroke="none"/>
<path d="M664.8,780.8 L661.6,778.3 L658.2,789.6 Z" fill="#1c1a1a" stroke="none"/>
<path d="M685.7,769.2 L674.9,760.8 L672.2,763.1 L659.5,772.8 L656.8,776.5 L674.8,790.5 L677.7,787.1 L684.1,772.4 Z" fill="#fff" stroke="#1c1a1a" stroke-width="3"/>
<path d="M683.8,772.6 L672.1,763.4" stroke="#1c1a1a" stroke-width="1.6" />
<path d="M677.6,787 L659.6,772.9" stroke="#1c1a1a" stroke-width="1.8" />
<path d="M680.3,772 L674.7,782.8" stroke="#1c1a1a" stroke-width="1.8" />
<path d="M678,770.2 L671.2,780.1" stroke="#1c1a1a" stroke-width="1.8" />
<path d="M675.8,768.4 L667.8,777.4" stroke="#1c1a1a" stroke-width="1.8" />
<path d="M673.5,766.7 L664.3,774.7" stroke="#1c1a1a" stroke-width="1.8" />
<path d="M656.3,795.7 L619.3,840" stroke="#1c1a1a" stroke-width="2.8" stroke-linecap="butt"/>
<path d="M620.2,838.5 L611.6,851.5" stroke="#1c1a1a" stroke-width="6.6" stroke-linecap="round"/>
<path d="M613.1,850.8 C612.1,852.7 611.7,855.2 610,856.4 C608.7,857.3 606.7,857.6 605.1,857.2 C602.9,856.7 601.8,853.1 599.6,853.3 C597.5,853.5 596.5,856 595.2,857.6 C592.8,860.7 590.9,864.2 588.7,867.5" stroke="#1c1a1a" stroke-width="7.4" />
<path d="M613.1,850.8 C612.1,852.7 611.7,855.2 610,856.4 C608.7,857.3 606.7,857.6 605.1,857.2 C602.9,856.7 601.8,853.1 599.6,853.3 C597.5,853.5 596.5,856 595.2,857.6 C592.8,860.7 590.9,864.2 588.7,867.5" stroke="#fff" stroke-width="1" />
<path d="M990.6,476.5 C989.2,478.3 987.8,480 986.3,481.7 C985,483.2 983.7,484.9 982,486 C980.4,487.1 978.4,487.9 976.5,488.1 C974.8,488.3 973.2,487.5 971.5,487.5 C970.1,487.5 968.6,487.6 967.2,488.2 C965.7,489 964.6,490.3 963.5,491.6 C962.9,492.4 962.5,493.4 961.9,494.3" stroke="#1c1a1a" stroke-width="8.2" />
<path d="M990.6,476.5 C989.2,478.3 987.8,480 986.3,481.7 C985,483.2 983.7,484.9 982,486 C980.4,487.1 978.4,487.9 976.5,488.1 C974.8,488.3 973.2,487.5 971.5,487.5 C970.1,487.5 968.6,487.6 967.2,488.2 C965.7,489 964.6,490.3 963.5,491.6 C962.9,492.4 962.5,493.4 961.9,494.3" stroke="#fff" stroke-width="2.4" />
<path d="M962.2,494.3 L932.8,531" stroke="#1c1a1a" stroke-width="6.2" stroke-linecap="butt"/>
<path d="M817.4,676.7 L660.6,875.6" stroke="#1c1a1a" stroke-width="12.8" stroke-linecap="butt"/>
<path d="M817.4,676.7 L660.6,875.6" stroke="#fff" stroke-width="5" stroke-linecap="butt"/>
<path d="M836.9,651.9 L821.7,671.2" stroke="#1c1a1a" stroke-width="12.8" stroke-linecap="butt"/>
<path d="M836.9,651.9 L821.7,671.2" stroke="#fff" stroke-width="5" stroke-linecap="butt"/>
<path d="M911.2,557.7 L882.7,593.8" stroke="#1c1a1a" stroke-width="9" stroke-linecap="butt"/>
<path d="M911.2,557.7 L882.7,593.8" stroke="#fff" stroke-width="3" stroke-linecap="butt"/>
<path d="M839,638.3 L825.4,655.6 L836.1,664 L849.7,646.7 Z" fill="#fff" stroke="#1c1a1a" stroke-width="3.2"/>
<path d="M843.9,647.3 L833.4,660.6" stroke="#1c1a1a" stroke-width="1.3" />
<path d="M839.8,644.1 L829.3,657.4" stroke="#1c1a1a" stroke-width="1.3" />
<path d="M863,606.3 L834.5,642.4 L846.7,652.1 L875.2,615.9 Z" fill="#fff" stroke="#1c1a1a" stroke-width="3.6"/>
<path d="M837,639.3 Q847.4,638.6 849.2,648.9" stroke="#1c1a1a" stroke-width="2.2" />
<path d="M878.2,587.7 L863.4,606.6 L874.8,615.6 L889.7,596.8 Z" fill="#fff" stroke="#1c1a1a" stroke-width="3.6"/>
<path d="M889.1,596.3 L878.9,588.2" stroke="#1c1a1a" stroke-width="4.6" />
<path d="M883.4,596.9 L873.5,609.5" stroke="#1c1a1a" stroke-width="1.2" />
<path d="M879.6,593.9 L869.7,606.5" stroke="#1c1a1a" stroke-width="1.2" />
<path d="M863.2,603.3 L860.4,606.8 L875.3,618.6 L878.1,615 Z" fill="#fff" stroke="#1c1a1a" stroke-width="1.8"/>
<path d="M926.5,527.4 L904.3,554.7 L915.6,563.9 L937.8,536.5 Z" fill="#fff" stroke="#1c1a1a" stroke-width="3.4"/>
<path d="M923.9,530.6 L935.1,539.8" stroke="#1c1a1a" stroke-width="1.6" />
<path d="M907,551.5 L918.2,560.6" stroke="#1c1a1a" stroke-width="1.6" />
<path d="M929.8,538.4 L915.8,555.6" stroke="#1c1a1a" stroke-width="1.2" />
<path d="M926.3,535.6 L912.4,552.9" stroke="#1c1a1a" stroke-width="1.2" />
<path d="M833.2,676.9 C831.9,675.6 831,673.6 829.3,672.9 C827.7,672.3 825.8,673.4 824.2,673 C823.2,672.7 822.5,671.9 821.6,671.3 C820.8,670.8 820,670 819.1,669.7 C817.4,669.2 815.5,670.4 813.9,669.8 C812.2,669 811.4,667.1 810.1,665.7" stroke="#fff" stroke-width="5"/>
<path d="M833.2,676.9 C831.9,675.6 831,673.6 829.3,672.9 C827.7,672.3 825.8,673.4 824.2,673 C823.2,672.7 822.5,671.9 821.6,671.3 C820.8,670.8 820,670 819.1,669.7 C817.4,669.2 815.5,670.4 813.9,669.8 C812.2,669 811.4,667.1 810.1,665.7" stroke="#1c1a1a" stroke-width="1.5" />
<path d="M828.7,682.5 C827.4,681.2 826.5,679.3 824.8,678.6 C823.2,677.9 821.3,679.1 819.7,678.6 C818.7,678.3 818,677.5 817.2,677 C816.3,676.5 815.6,675.7 814.6,675.4 C813,674.9 811.1,676.1 809.5,675.4 C807.8,674.7 806.9,672.7 805.7,671.4" stroke="#1c1a1a" stroke-width="1.5" />
<path d="M655.5,895.8 L642.1,885.2 L635.7,900.6 L637.7,904.6 L642,905.5 Z" fill="#fff" stroke="#1c1a1a" stroke-width="2.8"/>
<path d="M653.3,895.3 L650.1,892.8 L643.1,901.3 Z" fill="#1c1a1a" stroke="none"/>
<path d="M650.9,893.4 L647.8,891 L642,900.4 Z" fill="#1c1a1a" stroke="none"/>
<path d="M648.6,891.6 L645.4,889.1 L640.8,899.4 Z" fill="#1c1a1a" stroke="none"/>
<path d="M646.2,889.7 L643.1,887.3 L639.6,898.5 Z" fill="#1c1a1a" stroke="none"/>
<path d="M667.1,878.2 L656.5,869.8 L653.7,872 L640.9,881.7 L638.3,885.4 L656.2,899.5 L659.1,896.1 L665.6,881.5 Z" fill="#fff" stroke="#1c1a1a" stroke-width="3"/>
<path d="M665.3,881.6 L653.6,872.4" stroke="#1c1a1a" stroke-width="1.6" />
<path d="M659,896 L641.1,881.9" stroke="#1c1a1a" stroke-width="1.8" />
<path d="M661.8,881 L656.1,891.8" stroke="#1c1a1a" stroke-width="1.8" />
<path d="M659.5,879.2 L652.7,889.1" stroke="#1c1a1a" stroke-width="1.8" />
<path d="M657.3,877.4 L649.2,886.4" stroke="#1c1a1a" stroke-width="1.8" />
<path d="M655,875.6 L645.8,883.7" stroke="#1c1a1a" stroke-width="1.8" />
</g>
<g id="spring">
<circle cx="608.2" cy="943.3" r="5.6" fill="#fff" stroke="#1c1a1a" stroke-width="2.6"/>
<circle cx="609.7" cy="945.1" r="3.0" fill="#fff" stroke="#1c1a1a" stroke-width="1.3"/>
<ellipse cx="610.9" cy="941" rx="10.4" ry="4.6" transform="rotate(-144.1 610.9 941)" fill="#fff" stroke="#1c1a1a" stroke-width="2.2"/>
<ellipse cx="613.2" cy="937.8" rx="10.4" ry="4.6" transform="rotate(-144.1 613.2 937.8)" fill="#fff" stroke="#1c1a1a" stroke-width="2.2"/>
<ellipse cx="615.5" cy="934.6" rx="10.4" ry="4.6" transform="rotate(-144.1 615.5 934.6)" fill="#fff" stroke="#1c1a1a" stroke-width="2.2"/>
<ellipse cx="617.9" cy="931.4" rx="10.4" ry="4.6" transform="rotate(-144.1 617.9 931.4)" fill="#fff" stroke="#1c1a1a" stroke-width="2.2"/>
<ellipse cx="620.2" cy="928.2" rx="10.4" ry="4.6" transform="rotate(-144.1 620.2 928.2)" fill="#fff" stroke="#1c1a1a" stroke-width="2.2"/>
<ellipse cx="622.5" cy="925" rx="10.4" ry="4.6" transform="rotate(-144.1 622.5 925)" fill="#fff" stroke="#1c1a1a" stroke-width="2.2"/>
<ellipse cx="624.8" cy="921.8" rx="10.4" ry="4.6" transform="rotate(-144.1 624.8 921.8)" fill="#fff" stroke="#1c1a1a" stroke-width="2.2"/>
<ellipse cx="627.1" cy="918.7" rx="10.4" ry="4.6" transform="rotate(-144.1 627.1 918.7)" fill="#fff" stroke="#1c1a1a" stroke-width="2.2"/>
<ellipse cx="629.4" cy="915.5" rx="10.4" ry="4.6" transform="rotate(-144.1 629.4 915.5)" fill="#fff" stroke="#1c1a1a" stroke-width="2.2"/>
<ellipse cx="631.7" cy="912.3" rx="9.4" ry="4.6" transform="rotate(-144.1 631.7 912.3)" fill="#fff" stroke="#1c1a1a" stroke-width="2.2"/>
<ellipse cx="634" cy="909.1" rx="7.7" ry="3.6" transform="rotate(-144.1 634 909.1)" fill="#fff" stroke="#1c1a1a" stroke-width="2.2"/>
</g>
<g id="clip5">
<path d="M565.4,993.1 C563.1,1003.1 572.3,1016.9 587.7,1025.4 C592.3,1028.5 595.4,1029.6 597.3,1029.2 L613.8,1006.2 L615.8,998.5 L611.5,990.4 C593.8,986.2 574.6,983.1 565.4,993.1 Z" fill="#fff" stroke="#1c1a1a" stroke-width="3.9"/>
<path d="M556.5,972.3 C557.7,966.9 565.4,955.4 569.6,950.8 C572.3,948.5 580,951.5 587.7,957.3 L587.3,963.8 C589.2,965.4 592.3,966.5 593.8,968.1 L608.5,984.2 L590.4,1009.6 C583.1,1005.4 563.1,989.2 556.5,972.3 Z" fill="#fff" stroke="#1c1a1a" stroke-width="3.9"/>
<path d="M560.2,970.2 C565.4,968.5 570,973.1 575,978.8 L586.5,963.1 L587.3,958.5" stroke="#1c1a1a" stroke-width="3.9" />
<path d="M556.5,972.3 C558.5,980 565.4,986.2 576.2,990 C580,992.3 583.1,993.1 584.6,989.2" stroke="#1c1a1a" stroke-width="3.9" />
<path d="M589.2,966.2 L576.9,984.6" stroke="#1c1a1a" stroke-width="3.9" />
<path d="M592.3,970.8 L580,989.2 M595.4,974.6 L583.1,993.1" stroke="#1c1a1a" stroke-width="1.6" />
<path d="M576.9,984.6 L580,986.9 L581.9,990.8" stroke="#1c1a1a" stroke-width="2.2" />
<path d="M569.2,996.9 C576.2,993.8 583.1,998.5 589.2,1009.2 C590.8,1011.5 592.3,1011.5 593.8,1009.2" stroke="#1c1a1a" stroke-width="3.9" />
<path d="M607.7,986.9 L590.4,1009.6" stroke="#1c1a1a" stroke-width="3.9" />
<path d="M609.6,990.8 L593.1,1013.8 L597.3,1028.5 M612.3,993.1 L595.4,1016.9" stroke="#1c1a1a" stroke-width="1.7" />
<path d="M613.8,996.2 L607.7,1005.4 L609.2,1013.8 L600.8,1021.5" stroke="#1c1a1a" stroke-width="3.9" />
<path d="M604.2,1007.7 L606.2,1011.5 L604.2,1015.8" stroke="#1c1a1a" stroke-width="2.4" />
</g>
<g id="w10hook">
<path d="M1189.4,515.4 C1189.4,526.7 1189.5,537.9 1189.4,549.2 C1189.3,553.5 1189.4,557.7 1189,561.9 C1188.7,565 1188.3,568.2 1187.4,571.2 C1186.7,573.8 1185.9,576.5 1184.5,578.8 C1182.9,581.3 1181,583.7 1178.5,585.2 C1176.4,586.5 1173.8,587.4 1171.3,587.3 C1169,587.2 1166.8,586 1165,584.6 C1162.3,582.4 1161,578.8 1159.1,575.9 L1144.7,552.6 L1132.7,528.5 C1132,526.5 1130.7,524.6 1130.7,522.6 C1130.7,520.6 1131.3,518.5 1132.7,517.1 C1134.2,515.5 1136.6,514.7 1138.8,514.5 C1141.7,514.4 1144.5,515.8 1147.2,516.9 C1150.2,518.1 1152.9,520 1155.7,521.5 C1157.8,522.6 1159.6,524.9 1162,524.9 C1163.5,524.8 1164.7,523.5 1165.8,522.6 C1167.3,521.5 1168.5,520.1 1169.6,518.8 C1171.7,516.5 1173.4,514 1175.3,511.6 L1175.3,515.4 Z" fill="#fff" stroke="none"/>
<path d="M1189.4,515.4 C1189.4,526.7 1189.5,537.9 1189.4,549.2 C1189.3,553.5 1189.4,557.7 1189,561.9 C1188.7,565 1188.3,568.2 1187.4,571.2 C1186.7,573.8 1185.9,576.5 1184.5,578.8 C1182.9,581.3 1181,583.7 1178.5,585.2 C1176.4,586.5 1173.8,587.4 1171.3,587.3 C1169,587.2 1166.8,586 1165,584.6 C1162.3,582.4 1161,578.8 1159.1,575.9 L1144.7,552.6 L1132.7,528.5 C1132,526.5 1130.7,524.6 1130.7,522.6 C1130.7,520.6 1131.3,518.5 1132.7,517.1 C1134.2,515.5 1136.6,514.7 1138.8,514.5 C1141.7,514.4 1144.5,515.8 1147.2,516.9 C1150.2,518.1 1152.9,520 1155.7,521.5 C1157.8,522.6 1159.6,524.9 1162,524.9 C1163.5,524.8 1164.7,523.5 1165.8,522.6 C1167.3,521.5 1168.5,520.1 1169.6,518.8 C1171.7,516.5 1173.4,514 1175.3,511.6" stroke="#1c1a1a" stroke-width="6"/>
<path d="M1175.3,511.6 L1184.9,518.6" stroke="#1c1a1a" stroke-width="4.6" />
<path d="M1184.9,518.6 C1182.5,521.5 1180.5,524.7 1177.7,527.2 C1175.2,529.5 1172.3,531.3 1169.2,532.7 C1166.6,534 1163.7,535.3 1160.8,535.3 C1156.3,535.2 1152.2,532.9 1148.1,531.3 C1145,530.1 1142.4,527.9 1139.2,527.2 C1137.9,527 1136.6,527.2 1135.4,527.2" stroke="#1c1a1a" stroke-width="5" />
<path d="M1162,537.8 L1174.5,575.4" stroke="#1c1a1a" stroke-width="6.4" />
<path d="M1176.3,535.7 L1175.3,573.8" stroke="#1c1a1a" stroke-width="4.4" />
<path d="M1183.4,526.4 L1177,536.1" stroke="#1c1a1a" stroke-width="4.2" />
<path d="M1141.6,532 L1164.1,573.3" stroke="#1c1a1a" stroke-width="4" />
<ellipse cx="1160.8" cy="560.6" rx="2.6" ry="4.4" transform="rotate(-25 1160.8 560.6)" stroke="#1c1a1a" stroke-width="1.4"/>
<path d="M1150.6,553 Q1154.4,554.3 1157.4,549.2 M1162,570.8 Q1165,572.5 1166.9,569.1" stroke="#1c1a1a" stroke-width="1.4" />
</g>
<g id="joint6">
<path d="M947.2,344 L954.4,336 Q958.6,334.3 960.8,337.6 L969.6,355 Q970.9,359.6 967.5,361.8 L957.4,369 L952.3,369.4 L943.8,349.1 Z" fill="#fff" stroke="none"/>
<path d="M954,336.2 Q958.6,333.8 960.9,337.9 L969.6,355 Q971.1,359.9 966.7,362.4 L964.1,363.6" stroke="#1c1a1a" stroke-width="6" />
<path d="M943.7,348.6 L952.7,370.1" stroke="#1c1a1a" stroke-width="6" />
<path d="M945.5,346.1 Q951.5,344 954.8,337.2" stroke="#1c1a1a" stroke-width="1.5" />
<path d="M947.6,350.8 L955.7,340.6" stroke="#1c1a1a" stroke-width="1.5" />
<path d="M957,369 Q962.5,367.7 965.2,363" stroke="#1c1a1a" stroke-width="1.5" />
<ellipse cx="957.4" cy="355.2" rx="3.2" ry="4.6" transform="rotate(25 957.4 355.2)" stroke="#1c1a1a" stroke-width="1.6"/>
<path d="M955.7,357.5 L959.2,352.9" stroke="#1c1a1a" stroke-width="1.1" />
</g>
<g id="screw8">
<path d="M960.7,710.1 L1016.9,740.6" stroke="#1c1a1a" stroke-width="11.2" />
<path d="M960.7,710.1 L1016.9,740.6" stroke="#fff" stroke-width="4.4" />
<path d="M963.7,709.4 L960.3,712.3" stroke="#8a8a8a" stroke-width="0.9"/>
<path d="M965.7,710.5 L962.3,713.4" stroke="#8a8a8a" stroke-width="0.9"/>
<path d="M967.8,711.6 L964.4,714.6" stroke="#8a8a8a" stroke-width="0.9"/>
<path d="M969.9,712.7 L966.5,715.7" stroke="#8a8a8a" stroke-width="0.9"/>
<path d="M971.9,713.9 L968.5,716.8" stroke="#8a8a8a" stroke-width="0.9"/>
<path d="M974,715 L970.6,717.9" stroke="#8a8a8a" stroke-width="0.9"/>
<path d="M976.1,716.1 L972.7,719" stroke="#8a8a8a" stroke-width="0.9"/>
<path d="M978.1,717.2 L974.7,720.1" stroke="#8a8a8a" stroke-width="0.9"/>
<path d="M980.2,718.3 L976.8,721.3" stroke="#8a8a8a" stroke-width="0.9"/>
<path d="M982.3,719.5 L978.9,722.4" stroke="#8a8a8a" stroke-width="0.9"/>
<path d="M984.3,720.6 L980.9,723.5" stroke="#8a8a8a" stroke-width="0.9"/>
<path d="M986.4,721.7 L983,724.6" stroke="#8a8a8a" stroke-width="0.9"/>
<path d="M988.5,722.8 L985.1,725.7" stroke="#8a8a8a" stroke-width="0.9"/>
<path d="M990.5,723.9 L987.1,726.9" stroke="#8a8a8a" stroke-width="0.9"/>
<path d="M992.6,725 L989.2,728" stroke="#8a8a8a" stroke-width="0.9"/>
<path d="M994.7,726.2 L991.3,729.1" stroke="#8a8a8a" stroke-width="0.9"/>
<path d="M996.7,727.3 L993.3,730.2" stroke="#8a8a8a" stroke-width="0.9"/>
<path d="M998.8,728.4 L995.4,731.3" stroke="#8a8a8a" stroke-width="0.9"/>
<path d="M1000.9,729.5 L997.5,732.5" stroke="#8a8a8a" stroke-width="0.9"/>
<path d="M1002.9,730.6 L999.5,733.6" stroke="#8a8a8a" stroke-width="0.9"/>
<path d="M1005,731.8 L1001.6,734.7" stroke="#8a8a8a" stroke-width="0.9"/>
<path d="M1007.1,732.9 L1003.7,735.8" stroke="#8a8a8a" stroke-width="0.9"/>
<g transform="translate(1024.9,745.6) rotate(22)">
<ellipse rx="10.2" ry="12.6" fill="#fff" stroke="#1c1a1a" stroke-width="3.8"/>
<path d="M2.2,-6.5 L1.2,-1.6 L4.6,-0.8 L4.2,1.2 L0.8,0.6 L-0.4,6.0 M-3.4,-1.0 L1.2,-1.6 M0.8,0.6 L-3.6,1.4" stroke="#1c1a1a" stroke-width="1.5"/>
<path d="M3.4,2.4 L5.2,5.2 M1.8,3.0 L3.0,6.2" stroke="#8a8a8a" stroke-width="0.9"/>
</g>
</g>
<g id="starwashers">
<circle cx="829.9" cy="722.8" r="8.8" stroke="#1c1a1a" stroke-width="2.4" stroke-dasharray="1.75 1.706" stroke-linecap="butt"/>
<circle cx="829.9" cy="722.8" r="7.1" fill="#fff" stroke="#1c1a1a" stroke-width="1.8"/>
<circle cx="805" cy="752" r="8.8" stroke="#1c1a1a" stroke-width="2.4" stroke-dasharray="1.75 1.706" stroke-linecap="butt"/>
<circle cx="805" cy="752" r="7.1" fill="#fff" stroke="#1c1a1a" stroke-width="1.8"/>
<circle cx="783.8" cy="776.1" r="8.8" stroke="#1c1a1a" stroke-width="2.4" stroke-dasharray="1.75 1.706" stroke-linecap="butt"/>
<circle cx="783.8" cy="776.1" r="7.1" fill="#fff" stroke="#1c1a1a" stroke-width="1.8"/>
<circle cx="771.6" cy="790.5" r="8.8" stroke="#1c1a1a" stroke-width="2.4" stroke-dasharray="1.75 1.706" stroke-linecap="butt"/>
<circle cx="771.6" cy="790.5" r="7.1" fill="#fff" stroke="#1c1a1a" stroke-width="1.8"/>
<path d="M813.4,741.4 L820.7,733.5" stroke="#1c1a1a" stroke-width="1.5" />
<path d="M811.6,743.4 L812.2,738.9 L815.8,742.1 Z M822.5,731.5 L821.9,736 L818.3,732.8 Z" fill="#1c1a1a" stroke="none"/>
</g>
<path d="M530.3,170.5 L536.2,182.5" stroke="#1c1a1a" stroke-width="1.4" />
<g id="leaders">
<path d="M407.5,103.8 L444.5,129.3" stroke="#1c1a1a" stroke-width="2" stroke-linecap="butt"/>
<path d="M1170,210 L1236,185" stroke="#1c1a1a" stroke-width="2" stroke-linecap="butt"/>
<path d="M665,427.5 L745,530" stroke="#1c1a1a" stroke-width="2" stroke-linecap="butt"/>
<path d="M605,496 L647.5,525" stroke="#1c1a1a" stroke-width="2" stroke-linecap="butt"/>
<path d="M827.5,477.5 L867.5,506" stroke="#1c1a1a" stroke-width="2" stroke-linecap="butt"/>
<path d="M96,519 L136,546" stroke="#1c1a1a" stroke-width="2" stroke-linecap="butt"/>
<path d="M296,652.5 L361,629" stroke="#1c1a1a" stroke-width="2" stroke-linecap="butt"/>
<path d="M81,711 L123,740" stroke="#1c1a1a" stroke-width="2" stroke-linecap="butt"/>
<path d="M304,699 L294,757.5" stroke="#1c1a1a" stroke-width="2" stroke-linecap="butt"/>
<path d="M489,861 L611,911" stroke="#1c1a1a" stroke-width="2" stroke-linecap="butt"/>
<path d="M470,934 L554,961" stroke="#1c1a1a" stroke-width="2" stroke-linecap="butt"/>
<path d="M1016,761 L1005,820" stroke="#1c1a1a" stroke-width="2" stroke-linecap="butt"/>
</g>
<g id="labels" stroke="none">
<text x="397.3" y="102.6" text-anchor="middle">6</text>
<text x="1272" y="183.3" text-anchor="middle">10</text>
<text x="640.5" y="425.8" text-anchor="middle">12</text>
<text x="595.5" y="494.6" text-anchor="middle">9</text>
<text x="816.8" y="475" text-anchor="middle">7</text>
<text x="86.8" y="517.3" text-anchor="middle">2</text>
<text x="384.5" y="628.3" text-anchor="middle">3</text>
<text x="69" y="709" text-anchor="middle">1</text>
<text x="291" y="800.8" text-anchor="middle">4</text>
<text x="462.5" y="860" text-anchor="middle" letter-spacing="-2.5">11</text>
<text x="458" y="933.3" text-anchor="middle">5</text>
<text x="1002.8" y="861.8" text-anchor="middle">8</text>
</g>
</g>
</svg>
</body></html>
